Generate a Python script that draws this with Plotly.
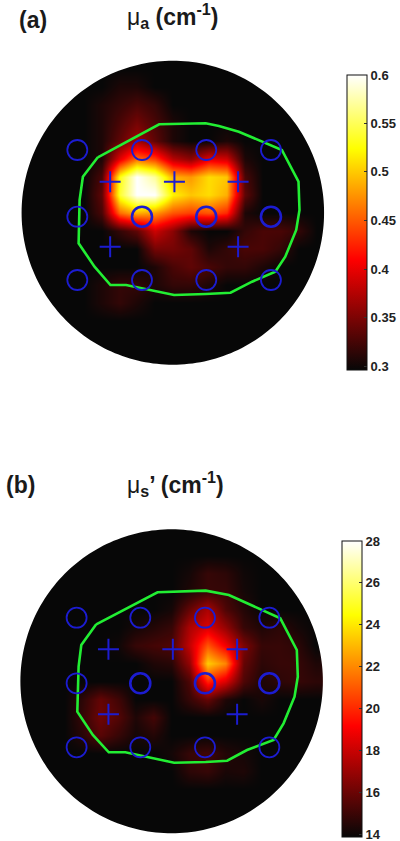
import numpy as np
import plotly.graph_objects as go

W, H = 400, 841
grid_x = [-144, -126, -108, -90, -72, -54, -36, -18, 0, 18, 36, 54, 72, 90, 108, 126, 144]
grid_y = [144, 126, 108, 90, 72, 54, 36, 18, 0, -18, -36, -54, -72, -90, -108, -126, -144]

mua = [
 [.30]*17,
 [.30,.30,.30,.30,.30,.31,.31,.30,.30,.30,.30,.30,.30,.30,.30,.30,.30],
 [.30,.30,.30,.30,.31,.32,.33,.32,.30,.30,.30,.30,.30,.30,.30,.30,.30],
 [.30,.30,.30,.30,.31,.33,.35,.33,.31,.30,.30,.30,.30,.30,.30,.30,.30],
 [.30,.30,.30,.30,.31,.34,.37,.34,.31,.30,.30,.31,.30,.30,.30,.30,.30],
 [.30,.30,.30,.30,.31,.40,.46,.44,.38,.36,.40,.39,.31,.30,.30,.30,.30],
 [.30,.30,.30,.30,.33,.53,.60,.57,.49,.48,.51,.50,.33,.30,.30,.30,.30],
 [.30,.30,.30,.30,.34,.54,.60,.60,.52,.50,.51,.49,.34,.30,.30,.30,.30],
 [.30,.30,.30,.30,.33,.46,.49,.48,.45,.44,.45,.43,.31,.30,.30,.30,.30],
 [.30,.30,.30,.30,.30,.32,.34,.39,.36,.31,.30,.30,.32,.33,.33,.32,.30],
 [.30,.30,.30,.30,.30,.30,.30,.35,.35,.34,.31,.32,.33,.33,.32,.30,.30],
 [.30,.30,.30,.30,.30,.30,.30,.31,.33,.34,.33,.32,.32,.31,.30,.30,.30],
 [.30,.30,.30,.30,.31,.32,.32,.31,.32,.32,.31,.30,.30,.30,.30,.30,.30],
 [.30,.30,.30,.30,.31,.32,.31,.30,.30,.30,.30,.30,.30,.30,.30,.30,.30],
 [.30]*17,
 [.30]*17,
 [.30]*17,
]

mus = [
 [14]*17,
 [14]*17,
 [14,14,14,14,14,14,14,14,14,14.3,15,14.8,14.2,14,14,14,14],
 [14,14,14,14,14,14,14,14,14,14.5,15,15,14.3,14,14,14,14],
 [14,14,14,14,14,14,14,14,14.3,16,17.5,15.5,14.6,14,14,14,14],
 [14,14,14,14,14,14,14.3,14.6,15,17.5,18.5,17,15,14.5,14.8,14.3,14],
 [14,14,14,14,14,14.2,15,15.3,15.5,18,21,19,16.5,15,15,14.8,14],
 [14,14,14,14,14,14,14,14.5,14.7,17,23.5,22,16,14.8,15,15,14.5],
 [14,14,14,14,14,14,14,14,14,15.5,20,18.5,15.5,14.5,14.8,15,14.8],
 [14,14,14,14.8,16,15.2,14,14,14,15,16,14.5,14,14.4,14,14,14],
 [14,14,14,15,16.2,15.6,14.5,15.3,14,14,14,14,14,14,14,14,14],
 [14,14,14,14.7,15.7,15,14.3,14.6,14,14,14,14,14,14,14,14,14],
 [14,14,14,14,14,14,14,14,14.3,15,15.2,14.6,14.3,14,14,14,14],
 [14,14,14,14,14,14,14,14,14,14.8,15,14.4,14.5,14,14,14,14],
 [14]*17,
 [14]*17,
 [14]*17,
]

a_circle_x = [-96, -31, 33.6, 98.6] * 3
a_circle_y = [62.7]*4 + [-4]*4 + [-67.3]*4
a_cross_x = [-63, 1.6, 65.6, -63, 65.6]
a_cross_y = [31, 31, 31, -34, -34]
a_outline_x = [-75.4,-90.4,-93.7,-94.7,-78.7,-62.7,-47,-30.4,1.3,33,58,79.6,103,113,124,127.3,126.3,109.6,89.6,66.3,46.3,33,-13.7,-75.4]
a_outline_y = [55.4,36,12.7,-30.6,-54,-72.3,-72.3,-75.6,-82.3,-81.3,-80,-69,-59,-44,-17.3,2.7,31,62.7,71,81,86.7,89.4,88.4,55.4]

b_circle_x = [-95.5, -31.5, 33.5, 98.2] * 3
b_circle_y = [63.6]*4 + [-2]*4 + [-66]*4
b_cross_x = [-63.5, 1.2, 65.8, -63.5, 65.8]
b_cross_y = [32, 32, 32, -33, -33]
b_outline_x = [-75.8,-90.8,-93.5,-94.8,-79.2,-63.2,-46.5,-30.8,2.5,34.2,55.8,75.8,102.5,112.5,123.5,126.8,125.8,109.2,89.2,57.5,34.2,-14.2,-75.8]
b_outline_y = [57,36.3,14.6,-30.4,-53.7,-71,-71,-74.4,-81.4,-80.7,-79.4,-68.7,-58.7,-42,-15.4,4.6,31.3,63,72,86.3,90.7,89,57]

mua_ticks = [0.3035, 0.353, 0.4025, 0.452, 0.5015, 0.551, 0.6]
mua_labels = ["0.3", "0.35", "0.4", "0.45", "0.5", "0.55", "0.6"]
mus_ticks = [14.14, 16.12, 18.1, 20.08, 22.06, 24.04, 26.02, 28]
mus_labels = ["14", "16", "18", "20", "22", "24", "26", "28"]

HOT = [[0, "#070707"], [0.375, "#ff0000"], [0.75, "#ffff00"], [1, "#ffffff"]]
BLUE = "#1c1cd0"
GREEN = "#22ee33"
FONT = "Liberation Sans"
HALF = 155
RADIUS = 152

fig = go.Figure()


def panel(n, cx, cy, z, zmin, zmax, ticks, labels, bar_x, bar_top, bar_bottom,
          ox, oy, cirx, ciry, crx, cry):
    sfx = "" if n == 1 else str(n)
    cb = dict(x=bar_x / W, xanchor="left", xpad=0, ypad=0, thickness=20,
              y=1 - bar_bottom / H, yanchor="bottom", len=(bar_bottom - bar_top) / H,
              lenmode="fraction", outlinecolor="#111", outlinewidth=1,
              tickvals=ticks, ticktext=["<b>" + s + "</b>" for s in labels],
              ticks="inside", ticklen=3, tickcolor="#333", ticklabeloverflow="allow",
              tickfont=dict(family=FONT, size=13, color="#222"))
    fig.add_trace(go.Heatmap(x=grid_x, y=grid_y, z=z, zmin=zmin, zmax=zmax, zsmooth="best",
                             colorscale=HOT, colorbar=cb, xaxis="x" + sfx, yaxis="y" + sfx,
                             hoverinfo="skip"))
    fig.add_trace(go.Scatter(x=ox, y=oy, mode="lines", line=dict(color=GREEN, width=2.6),
                             xaxis="x" + sfx, yaxis="y" + sfx, showlegend=False))
    widths = [1.8] * 4 + [1.8, 2.6, 2.6, 2.6] + [1.8] * 4
    fig.add_trace(go.Scatter(x=cirx, y=ciry, mode="markers",
                             marker=dict(symbol="circle-open", size=20, color=BLUE,
                                         line=dict(color=BLUE, width=widths)),
                             xaxis="x" + sfx, yaxis="y" + sfx, showlegend=False))
    fig.add_trace(go.Scatter(x=crx, y=cry, mode="markers",
                             marker=dict(symbol="cross-thin-open", size=15, color=BLUE,
                                         line=dict(color=BLUE, width=2)),
                             xaxis="x" + sfx, yaxis="y" + sfx, showlegend=False))
    axis = dict(range=[-HALF, HALF], visible=False, fixedrange=True)
    fig.update_layout({
        "xaxis" + sfx: dict(axis, domain=[(cx - HALF) / W, (cx + HALF) / W], anchor="y" + sfx),
        "yaxis" + sfx: dict(axis, domain=[1 - (cy + HALF) / H, 1 - (cy - HALF) / H], anchor="x" + sfx),
    })
    t = np.linspace(0, 2 * np.pi, 241)[:-1]
    ring = " ".join(("M" if i == 0 else "L") + f"{RADIUS*np.cos(a):.2f},{RADIUS*np.sin(a):.2f}" for i, a in enumerate(t))
    rect = f"M{-HALF},{-HALF} L{HALF},{-HALF} L{HALF},{HALF} L{-HALF},{HALF} Z"
    fig.add_shape(type="path", path=rect + " " + ring + " Z", xref="x" + sfx, yref="y" + sfx,
                  fillcolor="white", line_width=0, fillrule="evenodd", layer="above")


panel(1, 173.7, 212.7, mua, 0.3, 0.6, mua_ticks, mua_labels, 348.5, 75, 370,
      a_outline_x, a_outline_y, a_circle_x, a_circle_y, a_cross_x, a_cross_y)
panel(2, 172.5, 681.3, mus, 14, 28, mus_ticks, mus_labels, 343.5, 541, 837,
      b_outline_x, b_outline_y, b_circle_x, b_circle_y, b_cross_x, b_cross_y)


def label(text, px, py, size):
    fig.add_annotation(text=text, x=px / W, y=1 - py / H, xref="paper", yref="paper",
                       xanchor="left", yanchor="middle", showarrow=False,
                       font=dict(family=FONT, size=size, color="#1a1a1a"))


label("<b>(a)</b>", 17, 20, 23)
label("μ<b><sub>a</sub> (cm<sup>-1</sup>)</b>", 126, 16, 23)
label("<b>(b)</b>", 4, 485, 23)
label("μ<b><sub>s</sub>’ (cm<sup>-1</sup>)</b>", 126, 484, 23)

fig.update_layout(width=W, height=H, margin=dict(l=0, r=0, t=0, b=0),
                  paper_bgcolor="white", plot_bgcolor="white", showlegend=False)
fig.write_html("out.html", config={"displayModeBar": False},
               post_script="document.body.style.margin='0';")
